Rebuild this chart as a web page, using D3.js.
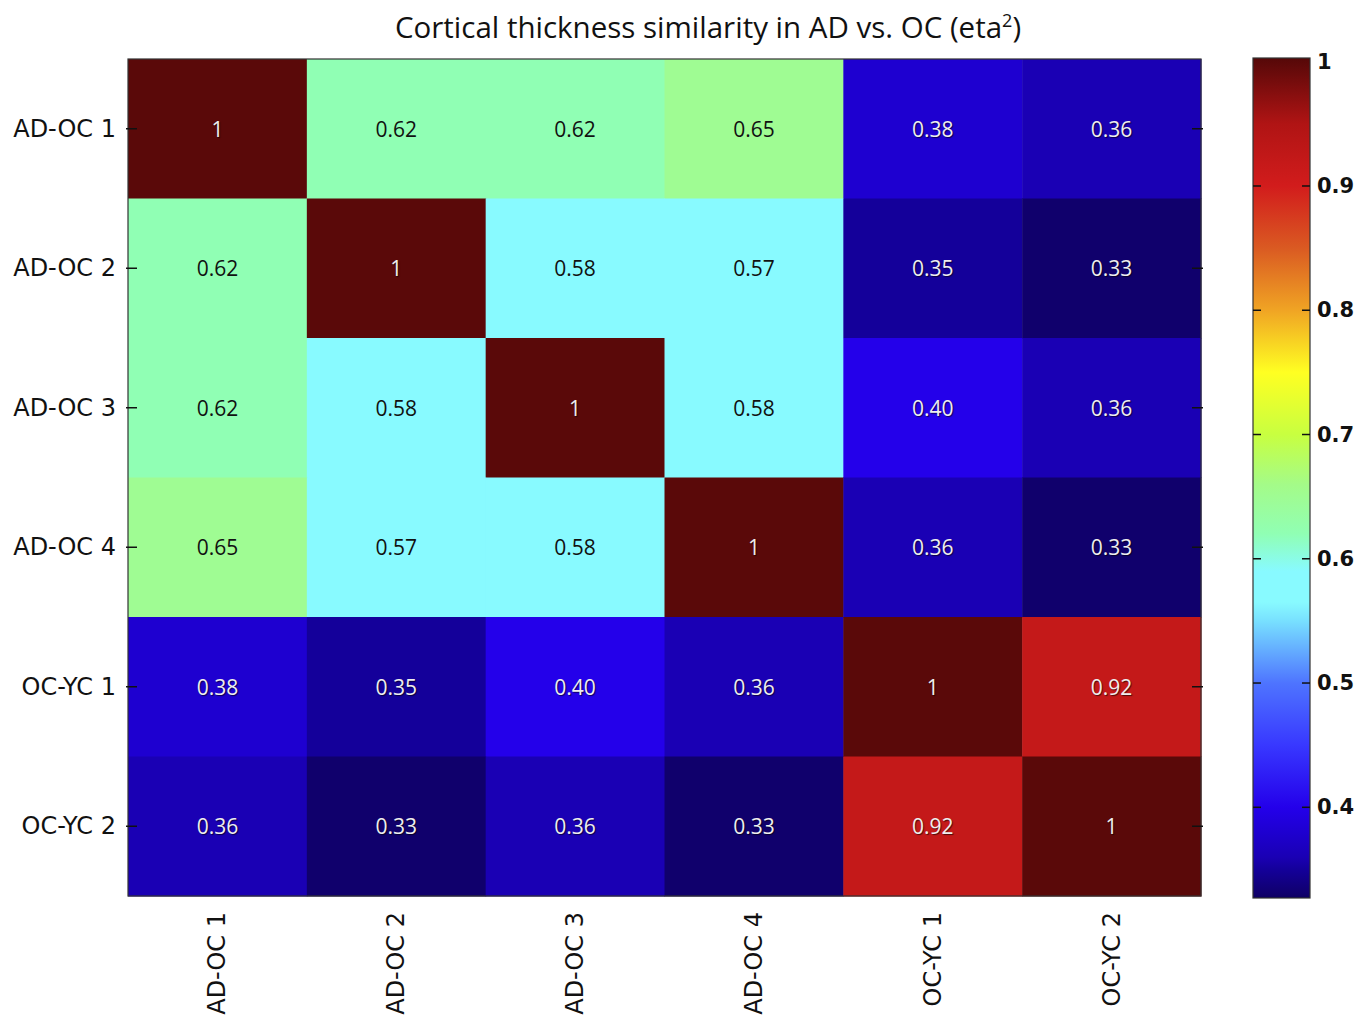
<!doctype html>
<html>
<head>
  <meta charset="utf-8">
  <title>Cortical thickness similarity</title>
  <style>
    body { margin: 0; background: #fff; }
    svg { display: block; }
    .cell-label { font-family: "Open Sans", sans-serif; font-size: 21px; }
    .axis-label { font-family: "DejaVu Sans", sans-serif; font-size: 24px; fill: #111; }
    .cbar-label { font-family: "DejaVu Sans", sans-serif; font-size: 21px; fill: #111; }
  </style>
</head>
<body>
  <div id="chart"></div>
  <script src="https://d3js.org/d3.v7.min.js"></script>
  <script>
    // data
    const groups = ['AD-OC 1', 'AD-OC 2', 'AD-OC 3', 'AD-OC 4', 'OC-YC 1', 'OC-YC 2'];
    const etaRows = [
      [1, 0.62, 0.62, 0.65, 0.38, 0.36],
      [0.62, 1, 0.58, 0.57, 0.35, 0.33],
      [0.62, 0.58, 1, 0.58, 0.40, 0.36],
      [0.65, 0.57, 0.58, 1, 0.36, 0.33],
      [0.38, 0.35, 0.40, 0.36, 1, 0.92],
      [0.36, 0.33, 0.36, 0.33, 0.92, 1]
    ];
    const colorTicks = [0.4, 0.5, 0.6, 0.7, 0.8, 0.9, 1];
    const colorDomain = [0.327, 1.003];

    const rampStops = [0.327, 0.33, 0.35, 0.36, 0.38, 0.40, 0.45, 0.50, 0.55, 0.565, 0.59, 0.62, 0.66, 0.70, 0.75, 0.80, 0.85, 0.90, 0.95, 1.003];
    const rampColors = ['#0e0060', '#10006c', '#14009a', '#1a00b4', '#1e00d0', '#2400ea', '#3838ff', '#4e74ff', '#78e0ff',
      '#88faff', '#88faff', '#90ffb4', '#a4fb88', '#c8ff40', '#ffff22', '#f0a424', '#da5a22', '#d21c1c', '#b01414', '#550808'];

    const W = 1369, H = 1022;
    const plot = { left: 128, top: 59, right: 1201, bottom: 896 };
    const cbar = { left: 1253, right: 1310, top: 58, bottom: 898 };

    const svg = d3.select('#chart').append('svg').attr('width', W).attr('height', H);

    const color = d3.scaleLinear().domain(rampStops).range(rampColors).interpolate(d3.interpolateRgb).clamp(true);

    const x = d3.scaleBand().domain(groups).range([plot.left, plot.right]);
    const y = d3.scaleBand().domain(groups).range([plot.top, plot.bottom]);

    const cells = [];
    etaRows.forEach((row, i) => row.forEach((v, j) => cells.push({ r: groups[i], c: groups[j], v })));

    // heatmap cells
    svg.append('g').selectAll('rect').data(cells).join('rect')
      .attr('x', d => x(d.c)).attr('y', d => y(d.r))
      .attr('width', x.bandwidth() + 0.5).attr('height', y.bandwidth() + 0.5)
      .attr('fill', d => color(d.v));

    const isLight = v => v > 0.5 && v < 0.8;
    svg.append('g').selectAll('text').data(cells).join('text')
      .attr('class', 'cell-label')
      .attr('x', d => x(d.c) + x.bandwidth() / 2)
      .attr('y', d => y(d.r) + y.bandwidth() / 2)
      .attr('text-anchor', 'middle').attr('dominant-baseline', 'central')
      .attr('fill', d => isLight(d.v) ? '#111' : '#eeeeee')
      .style('text-shadow', d => isLight(d.v) ? 'none' : '1px 1px 1px rgba(0,0,0,0.6)')
      .text(d => d.v === 1 ? '1' : d3.format('.2f')(d.v));

    // frame + ticks
    svg.append('rect')
      .attr('x', plot.left).attr('y', plot.top)
      .attr('width', plot.right - plot.left).attr('height', plot.bottom - plot.top)
      .attr('fill', 'none').attr('stroke', '#333').attr('stroke-width', 1.2);

    const tickG = svg.append('g').attr('stroke', '#111').attr('stroke-width', 1.5);
    groups.forEach(g => {
      const cy = y(g) + y.bandwidth() / 2;
      tickG.append('line').attr('x1', plot.left - 2).attr('x2', plot.left + 9).attr('y1', cy).attr('y2', cy);
      tickG.append('line').attr('x1', plot.right - 9).attr('x2', plot.right + 2).attr('y1', cy).attr('y2', cy);
    });

    // axis labels
    svg.append('g').selectAll('text').data(groups).join('text')
      .attr('class', 'axis-label')
      .attr('x', 116).attr('y', d => y(d) + y.bandwidth() / 2)
      .attr('text-anchor', 'end').attr('dominant-baseline', 'central')
      .text(d => d);

    svg.append('g').selectAll('text').data(groups).join('text')
      .attr('class', 'axis-label')
      .attr('transform', d => `translate(${x(d) + x.bandwidth() / 2},912) rotate(-90)`)
      .attr('text-anchor', 'end').attr('dominant-baseline', 'central')
      .text(d => d);

    // title
    const title = svg.append('text')
      .attr('x', 708).attr('y', 38)
      .attr('text-anchor', 'middle')
      .style('font-family', '"Open Sans", sans-serif').style('font-size', '29.5px').attr('fill', '#111');
    title.append('tspan').text('Cortical thickness similarity in AD vs. OC (eta');
    title.append('tspan').attr('dy', -11).style('font-size', '18px').text('2');
    title.append('tspan').attr('dy', 11).text(')');

    // colour bar
    const cy = d3.scaleLinear().domain(colorDomain).range([cbar.bottom, cbar.top]);
    const grad = svg.append('defs').append('linearGradient')
      .attr('id', 'cbarGrad').attr('x1', 0).attr('y1', 1).attr('x2', 0).attr('y2', 0);
    grad.selectAll('stop').data(rampStops).join('stop')
      .attr('offset', d => (d - colorDomain[0]) / (colorDomain[1] - colorDomain[0]))
      .attr('stop-color', d => color(d));

    svg.append('rect')
      .attr('x', cbar.left).attr('y', cbar.top)
      .attr('width', cbar.right - cbar.left).attr('height', cbar.bottom - cbar.top)
      .attr('fill', 'url(#cbarGrad)').attr('stroke', '#333').attr('stroke-width', 1.2);

    const cTicks = svg.append('g').attr('stroke', '#111').attr('stroke-width', 1.5);
    colorTicks.forEach(t => {
      if (t === 1) return;
      cTicks.append('line').attr('x1', cbar.left).attr('x2', cbar.left + 8).attr('y1', cy(t)).attr('y2', cy(t));
      cTicks.append('line').attr('x1', cbar.right - 8).attr('x2', cbar.right).attr('y1', cy(t)).attr('y2', cy(t));
    });

    svg.append('g').selectAll('text').data(colorTicks).join('text')
      .attr('class', 'cbar-label')
      .attr('x', 1317).attr('y', d => cy(d))
      .attr('dominant-baseline', 'central')
      .style('font-weight', 'bold')
      .text(d => d3.format('~g')(d));
  </script>
</body>
</html>
